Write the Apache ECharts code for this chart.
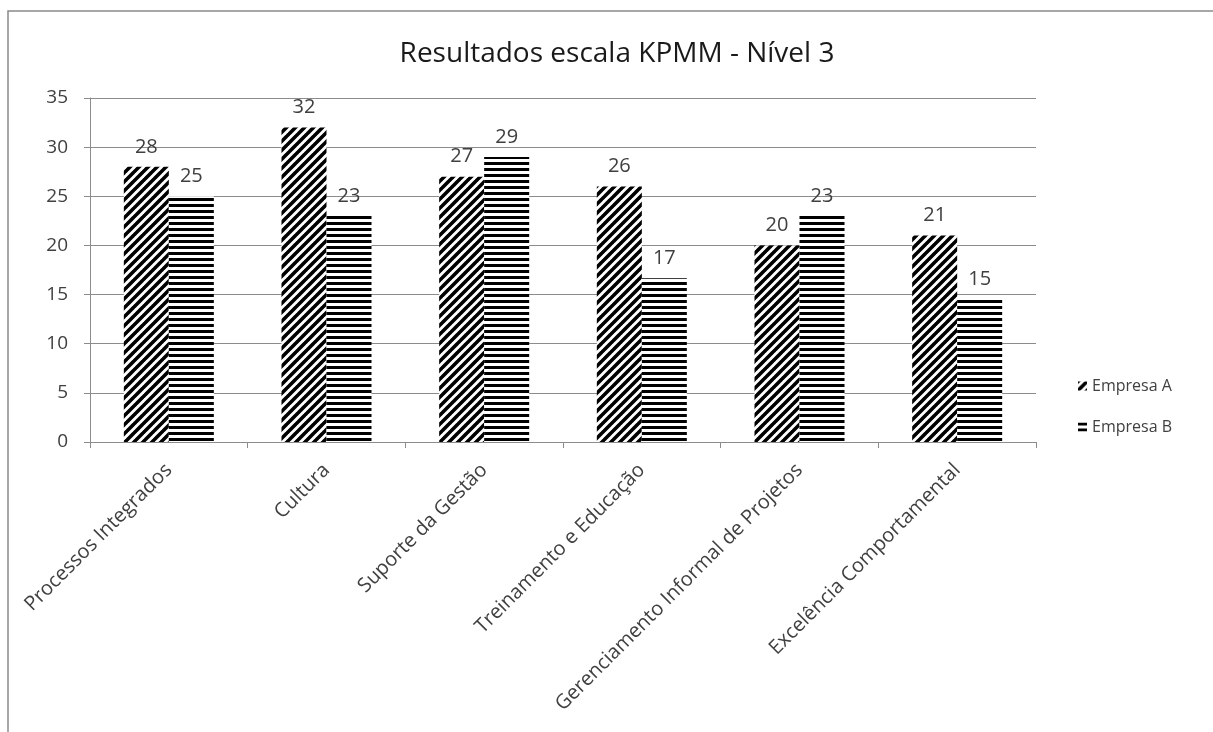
<!DOCTYPE html>
<html>
<head>
<meta charset="utf-8">
<title>Resultados escala KPMM</title>
<script src="https://cdn.jsdelivr.net/npm/echarts@6/dist/echarts.min.js"></script>
<style>
    html, body { margin: 0; padding: 0; background: #fff; }
    #chart { width: 1213px; height: 732px; }
</style>
</head>
<body>
<div id="chart"></div>
<script>
// data
var categories = [
    'Processos Integrados',
    'Cultura',
    'Suporte da Gestão',
    'Treinamento e Educação',
    'Gerenciamento Informal de Projetos',
    'Excelência Comportamental'
];
var empresaA = [28, 32, 27, 26, 20, 21];
var empresaB = [25, 23, 29, 16.67, 23, 14.5];
var yTicks = { min: 0, max: 35, interval: 5 };

var FONT = '"Open Sans", "Liberation Sans", sans-serif';
var TEXT = '#404040';
var GRID = '#8c8c8c';

/**
 * Build a repeating canvas used as a bar fill.
 * @param {string} kind 'diagonal' or 'horizontal'
 */
function makePattern(kind) {
    var c = document.createElement('canvas');
    var ctx = c.getContext('2d');
    if (kind === 'diagonal') {
        var n = 9;
        c.width = n; c.height = n;
        ctx.fillStyle = '#fff';
        ctx.fillRect(0, 0, n, n);
        ctx.strokeStyle = '#000';
        ctx.lineWidth = 3.6;
        ctx.beginPath();
        ctx.moveTo(-1, n + 1); ctx.lineTo(n + 1, -1);
        ctx.moveTo(-1, 1); ctx.lineTo(1, -1);
        ctx.moveTo(n - 1, n + 1); ctx.lineTo(n + 1, n - 1);
        ctx.stroke();
    } else {
        c.width = 6; c.height = 6;
        ctx.fillStyle = '#fff';
        ctx.fillRect(0, 0, 6, 6);
        ctx.fillStyle = '#000';
        ctx.fillRect(0, 0, 6, 3);
    }
    return { image: c, repeat: 'repeat' };
}

var labelStyle = {
    show: true,
    position: 'top',
    distance: 10,
    fontFamily: FONT,
    fontSize: 20,
    color: TEXT,
    formatter: function (p) { return Math.round(p.value); }
};

var chart = echarts.init(document.getElementById('chart'), null, { renderer: 'canvas' });

chart.setOption({
    animation: false,
    backgroundColor: '#fff',
    textStyle: { fontFamily: FONT },
    graphic: [{
        type: 'rect',
        shape: { x: 8, y: 11, width: 1400, height: 900 },
        style: { fill: 'none', stroke: '#8a8a8a', lineWidth: 1.5 },
        silent: true
    }],
    title: {
        text: 'Resultados escala KPMM - Nível 3',
        left: 612,
        textAlign: 'center',
        top: 35,
        textStyle: { fontFamily: FONT, fontSize: 28, fontWeight: 'normal', color: '#1a1a1a' }
    },
    legend: {
        orient: 'vertical',
        left: 1073,
        top: 373,
        itemWidth: 9,
        itemHeight: 9,
        itemGap: 25,
        icon: 'rect',
        textStyle: { fontFamily: FONT, fontSize: 16, color: TEXT },
        data: ['Empresa A', 'Empresa B']
    },
    grid: { left: 90, right: 177, top: 98, bottom: 290, containLabel: false },
    xAxis: {
        type: 'category',
        data: categories,
        axisLine: { lineStyle: { color: GRID, width: 1 } },
        axisTick: { show: true, length: 6, alignWithLabel: false, lineStyle: { color: GRID } },
        axisLabel: {
            interval: 0,
            rotate: 45,
            margin: 25,
            fontFamily: FONT,
            fontSize: 20,
            color: TEXT
        }
    },
    yAxis: {
        type: 'value',
        min: yTicks.min,
        max: yTicks.max,
        interval: yTicks.interval,
        axisLine: { show: true, lineStyle: { color: GRID, width: 1 } },
        axisTick: { show: true, length: 6, lineStyle: { color: GRID } },
        axisLabel: { margin: 22, fontFamily: FONT, fontSize: 19, color: TEXT },
        splitLine: { lineStyle: { color: GRID, width: 1 } }
    },
    series: [{
        name: 'Empresa A',
        type: 'bar',
        data: empresaA,
        barWidth: 45,
        barGap: '0%',
        itemStyle: { color: makePattern('diagonal') },
        label: labelStyle
    }, {
        name: 'Empresa B',
        type: 'bar',
        data: empresaB,
        barWidth: 45,
        barGap: '0%',
        itemStyle: { color: makePattern('horizontal') },
        label: labelStyle
    }]
});
</script>
</body>
</html>
